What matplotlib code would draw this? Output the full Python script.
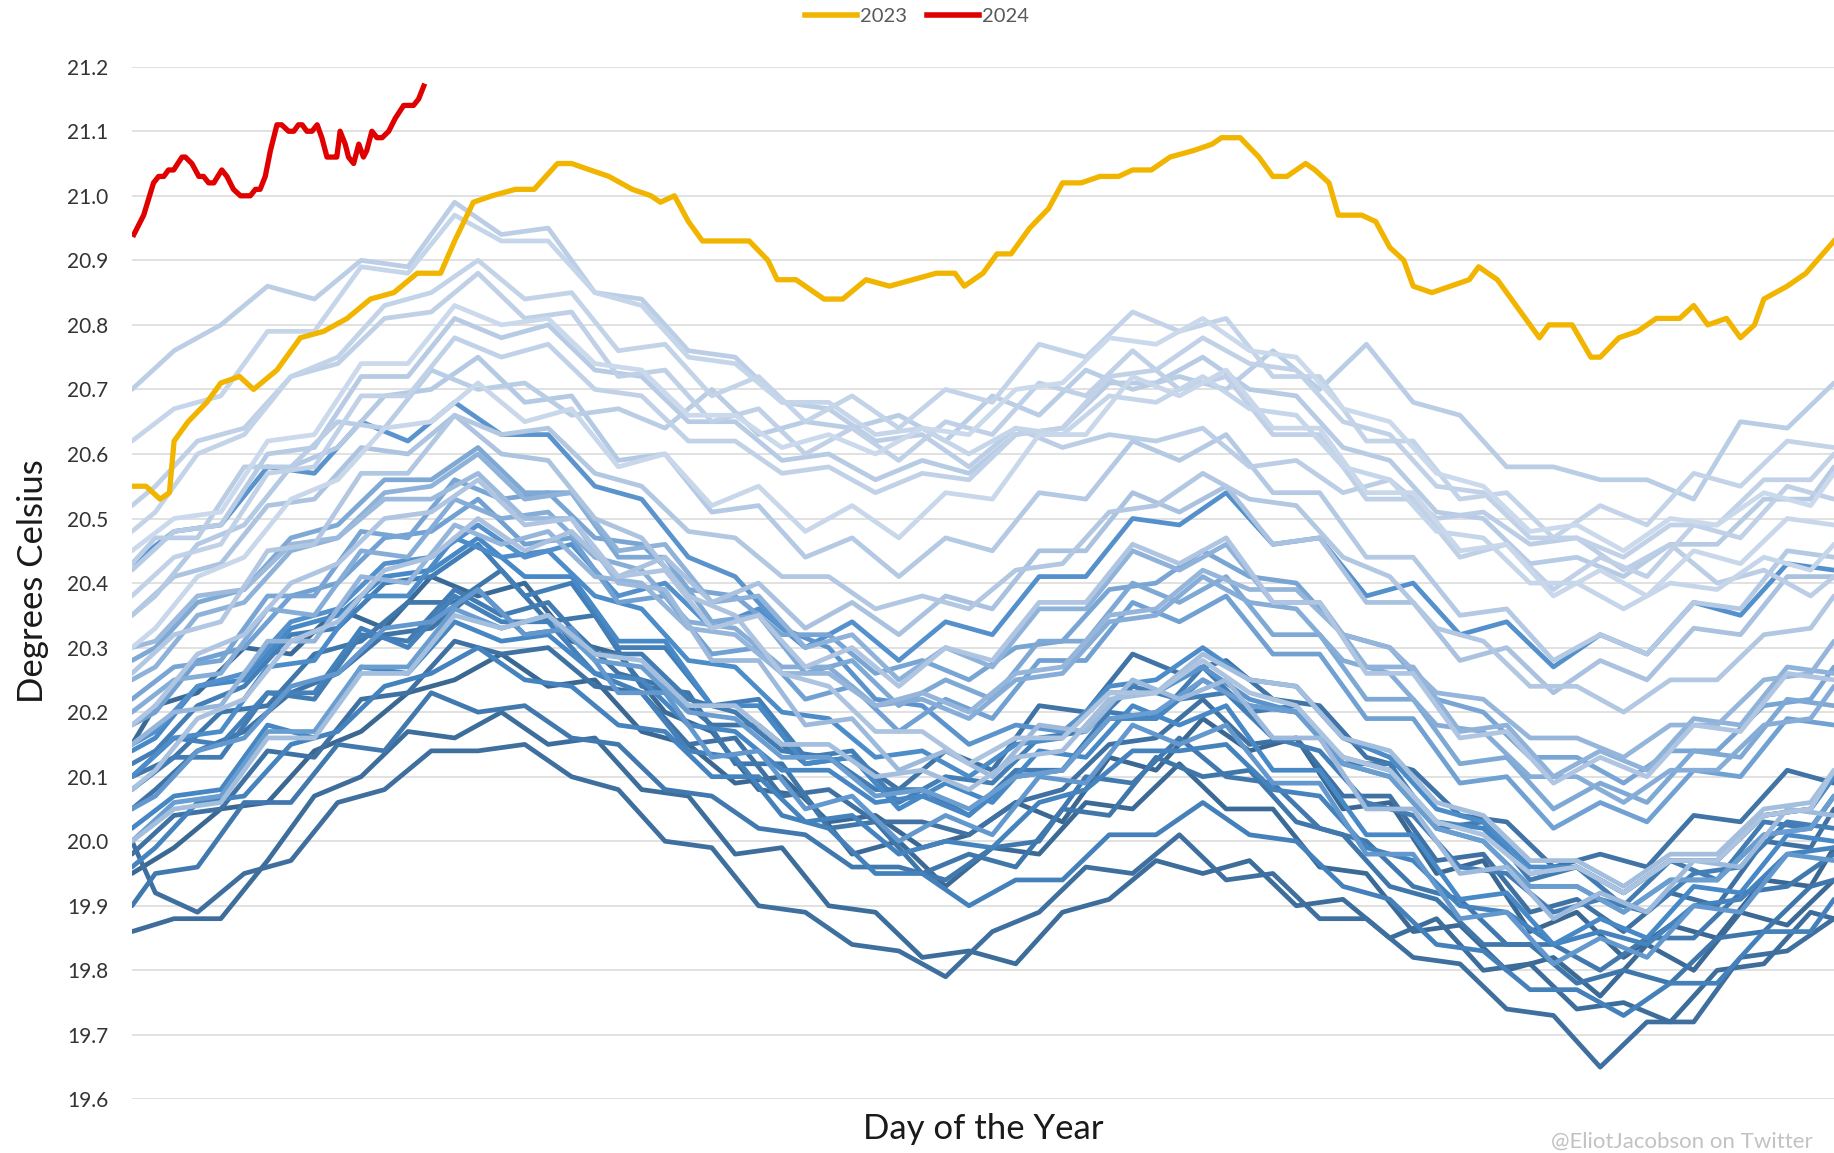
import matplotlib
matplotlib.use("Agg")
import matplotlib.pyplot as plt
from matplotlib.colors import LinearSegmentedColormap
from matplotlib.lines import Line2D

plt.rcParams["font.family"] = ["Lato", "DejaVu Sans"]

knot_days_a = [1, 10, 20, 30, 40, 50, 60, 70, 80, 90, 100, 110, 120, 130, 140, 150, 160, 170, 180, 190,
               200, 210, 220, 230, 240, 250, 260, 270, 280, 290, 300, 310, 320, 330, 340, 350, 360, 365]
knot_days_b = [1, 6, 15, 25, 35, 45, 55, 65, 75, 85, 95, 105, 115, 125, 135, 145, 155, 165, 175, 185,
               195, 205, 215, 225, 235, 245, 255, 265, 275, 285, 295, 305, 315, 325, 335, 345, 355, 365]

y1982 = [19.95, 19.99, 20.05, 20.06, 20.14, 20.17, 20.23, 20.25, 20.29, 20.24, 20.25, 20.17, 20.15, 20.09, 20.10, 20.03, 20.04, 19.99, 20.01, 20.06, 20.03, 20.13, 20.11, 20.19, 20.14, 20.16, 20.05, 20.06, 19.95, 19.97, 19.86, 19.89, 19.82, 19.87, 19.85, 19.94, 19.93, 19.99]
y1983 = [20.15, 20.21, 20.23, 20.30, 20.29, 20.36, 20.33, 20.41, 20.38, 20.40, 20.31, 20.29, 20.20, 20.17, 20.08, 20.07, 19.98, 20.00, 19.93, 19.99, 19.98, 20.06, 20.05, 20.12, 20.05, 20.05, 19.96, 19.95, 19.86, 19.87, 19.80, 19.82, 19.76, 19.84, 19.80, 19.89, 19.87, 19.94]
y1984 = [19.86, 19.88, 19.88, 19.97, 20.07, 20.10, 20.17, 20.16, 20.20, 20.15, 20.16, 20.08, 20.07, 19.98, 19.99, 19.90, 19.89, 19.82, 19.83, 19.81, 19.89, 19.91, 19.97, 19.95, 19.97, 19.90, 19.91, 19.85, 19.88, 19.80, 19.81, 19.74, 19.75, 19.72, 19.80, 19.81, 19.89, 19.88]
y1985 = [20.00, 19.92, 19.89, 19.95, 19.97, 20.06, 20.08, 20.14, 20.14, 20.15, 20.10, 20.08, 20.00, 19.99, 19.90, 19.89, 19.84, 19.83, 19.79, 19.86, 19.89, 19.96, 19.95, 20.01, 19.94, 19.95, 19.88, 19.88, 19.82, 19.81, 19.74, 19.73, 19.65, 19.72, 19.72, 19.82, 19.83, 19.88]
y1986 = [19.98, 20.04, 20.05, 20.14, 20.13, 20.22, 20.23, 20.31, 20.29, 20.30, 20.24, 20.23, 20.15, 20.16, 20.07, 20.08, 20.03, 20.03, 20.01, 20.06, 20.08, 20.15, 20.16, 20.22, 20.15, 20.16, 20.07, 20.07, 19.97, 19.98, 19.89, 19.91, 19.86, 19.92, 19.90, 20.00, 19.99, 20.05]
y1987 = [20.05, 20.08, 20.14, 20.17, 20.23, 20.26, 20.32, 20.33, 20.39, 20.32, 20.33, 20.26, 20.24, 20.18, 20.18, 20.12, 20.13, 20.08, 20.14, 20.11, 20.21, 20.20, 20.29, 20.26, 20.28, 20.22, 20.21, 20.13, 20.11, 20.04, 20.03, 19.96, 19.98, 19.96, 20.04, 20.03, 20.11, 20.09]
y1988 = [20.10, 20.13, 20.20, 20.21, 20.29, 20.31, 20.37, 20.37, 20.42, 20.34, 20.35, 20.24, 20.23, 20.12, 20.12, 20.02, 20.03, 19.95, 19.98, 19.96, 20.05, 20.04, 20.13, 20.10, 20.11, 20.03, 20.01, 19.93, 19.91, 19.84, 19.84, 19.78, 19.80, 19.78, 19.85, 19.86, 19.93, 19.94]
y1989 = [19.90, 19.95, 19.96, 20.06, 20.06, 20.15, 20.14, 20.23, 20.20, 20.21, 20.16, 20.15, 20.08, 20.07, 20.02, 20.01, 19.96, 19.96, 19.94, 19.99, 20.00, 20.10, 20.09, 20.16, 20.10, 20.09, 20.02, 20.00, 19.93, 19.91, 19.84, 19.84, 19.80, 19.85, 19.85, 19.92, 19.93, 19.98]
y1990 = [20.08, 20.13, 20.13, 20.23, 20.22, 20.32, 20.31, 20.39, 20.35, 20.37, 20.29, 20.29, 20.22, 20.20, 20.14, 20.13, 20.08, 20.08, 20.04, 20.11, 20.11, 20.20, 20.19, 20.27, 20.20, 20.21, 20.12, 20.12, 20.02, 20.03, 19.94, 19.96, 19.90, 19.97, 19.94, 20.03, 20.02, 20.07]
y1991 = [20.12, 20.14, 20.21, 20.24, 20.32, 20.33, 20.40, 20.41, 20.46, 20.38, 20.40, 20.30, 20.30, 20.21, 20.22, 20.13, 20.14, 20.06, 20.10, 20.09, 20.16, 20.17, 20.24, 20.22, 20.23, 20.16, 20.14, 20.06, 20.04, 19.96, 19.95, 19.89, 19.91, 19.89, 19.95, 19.96, 20.03, 20.02]
y1992 = [20.10, 20.16, 20.15, 20.23, 20.23, 20.33, 20.30, 20.38, 20.34, 20.34, 20.26, 20.23, 20.14, 20.13, 20.04, 20.02, 19.95, 19.95, 19.90, 19.94, 19.94, 20.01, 20.01, 20.06, 20.01, 20.00, 19.93, 19.91, 19.84, 19.83, 19.77, 19.77, 19.73, 19.78, 19.78, 19.86, 19.86, 19.91]
y1993 = [19.96, 19.99, 20.06, 20.07, 20.15, 20.17, 20.24, 20.26, 20.30, 20.25, 20.24, 20.18, 20.17, 20.10, 20.10, 20.03, 20.04, 19.98, 20.00, 19.99, 20.06, 20.08, 20.14, 20.14, 20.15, 20.08, 20.07, 19.99, 19.97, 19.90, 19.89, 19.84, 19.86, 19.84, 19.90, 19.91, 19.98, 19.99]
y1994 = [20.02, 20.07, 20.08, 20.18, 20.16, 20.27, 20.26, 20.34, 20.31, 20.32, 20.26, 20.25, 20.18, 20.17, 20.11, 20.11, 20.06, 20.07, 20.04, 20.10, 20.11, 20.19, 20.19, 20.25, 20.21, 20.20, 20.13, 20.11, 20.03, 20.02, 19.95, 19.96, 19.92, 19.97, 19.97, 20.04, 20.05, 20.10]
y1995 = [20.14, 20.16, 20.24, 20.25, 20.33, 20.35, 20.41, 20.42, 20.47, 20.41, 20.41, 20.31, 20.31, 20.21, 20.21, 20.12, 20.13, 20.05, 20.09, 20.06, 20.14, 20.13, 20.21, 20.18, 20.21, 20.11, 20.11, 20.01, 20.01, 19.91, 19.92, 19.84, 19.88, 19.85, 19.93, 19.92, 20.01, 20.00]
y1996 = [20.10, 20.16, 20.17, 20.27, 20.28, 20.38, 20.38, 20.47, 20.44, 20.45, 20.38, 20.36, 20.28, 20.27, 20.20, 20.19, 20.13, 20.14, 20.10, 20.15, 20.16, 20.24, 20.25, 20.30, 20.25, 20.24, 20.16, 20.13, 20.05, 20.03, 19.96, 19.96, 19.92, 19.97, 19.97, 20.04, 20.05, 20.10]
y1997 = [20.15, 20.17, 20.24, 20.26, 20.34, 20.36, 20.43, 20.44, 20.49, 20.44, 20.46, 20.38, 20.40, 20.33, 20.36, 20.30, 20.34, 20.28, 20.34, 20.32, 20.41, 20.41, 20.50, 20.49, 20.54, 20.46, 20.47, 20.38, 20.40, 20.32, 20.34, 20.27, 20.32, 20.29, 20.37, 20.35, 20.43, 20.42]
y1998 = [20.43, 20.48, 20.49, 20.58, 20.57, 20.65, 20.62, 20.68, 20.63, 20.63, 20.55, 20.53, 20.44, 20.41, 20.33, 20.30, 20.22, 20.21, 20.15, 20.18, 20.17, 20.23, 20.23, 20.27, 20.22, 20.20, 20.12, 20.10, 20.02, 20.00, 19.93, 19.93, 19.89, 19.94, 19.94, 20.01, 20.02, 20.07]
y1999 = [20.05, 20.07, 20.14, 20.16, 20.24, 20.26, 20.33, 20.34, 20.39, 20.32, 20.33, 20.23, 20.23, 20.13, 20.14, 20.05, 20.07, 20.00, 20.04, 20.01, 20.10, 20.09, 20.18, 20.15, 20.18, 20.09, 20.09, 19.98, 19.98, 19.88, 19.89, 19.81, 19.85, 19.82, 19.90, 19.89, 19.98, 19.97]
y2000 = [20.00, 20.06, 20.07, 20.17, 20.17, 20.27, 20.27, 20.36, 20.33, 20.35, 20.28, 20.27, 20.20, 20.19, 20.13, 20.13, 20.07, 20.08, 20.05, 20.10, 20.11, 20.19, 20.20, 20.25, 20.21, 20.20, 20.12, 20.10, 20.02, 20.00, 19.93, 19.93, 19.89, 19.94, 19.94, 20.01, 20.02, 20.07]
y2001 = [20.18, 20.20, 20.28, 20.30, 20.38, 20.40, 20.47, 20.48, 20.53, 20.46, 20.47, 20.37, 20.38, 20.29, 20.30, 20.22, 20.24, 20.17, 20.22, 20.19, 20.28, 20.28, 20.37, 20.34, 20.38, 20.29, 20.29, 20.19, 20.19, 20.09, 20.10, 20.02, 20.06, 20.03, 20.11, 20.10, 20.19, 20.18]
y2002 = [20.22, 20.27, 20.28, 20.38, 20.38, 20.48, 20.47, 20.56, 20.53, 20.54, 20.47, 20.46, 20.39, 20.38, 20.32, 20.32, 20.26, 20.28, 20.25, 20.30, 20.31, 20.39, 20.40, 20.45, 20.41, 20.40, 20.32, 20.30, 20.22, 20.20, 20.13, 20.13, 20.09, 20.14, 20.14, 20.21, 20.22, 20.27]
y2003 = [20.28, 20.30, 20.37, 20.39, 20.47, 20.49, 20.56, 20.56, 20.61, 20.54, 20.54, 20.44, 20.44, 20.34, 20.35, 20.26, 20.28, 20.21, 20.25, 20.22, 20.31, 20.31, 20.40, 20.37, 20.41, 20.32, 20.32, 20.22, 20.22, 20.12, 20.13, 20.05, 20.09, 20.06, 20.14, 20.13, 20.22, 20.21]
y2004 = [20.20, 20.25, 20.26, 20.36, 20.35, 20.45, 20.44, 20.53, 20.50, 20.51, 20.44, 20.42, 20.34, 20.33, 20.27, 20.27, 20.21, 20.22, 20.19, 20.25, 20.26, 20.34, 20.35, 20.41, 20.37, 20.36, 20.28, 20.26, 20.18, 20.17, 20.10, 20.10, 20.06, 20.11, 20.11, 20.18, 20.19, 20.24]
y2005 = [20.25, 20.27, 20.35, 20.37, 20.45, 20.47, 20.54, 20.55, 20.60, 20.53, 20.54, 20.45, 20.46, 20.37, 20.38, 20.30, 20.32, 20.25, 20.30, 20.27, 20.36, 20.36, 20.45, 20.42, 20.46, 20.37, 20.37, 20.27, 20.27, 20.17, 20.18, 20.10, 20.14, 20.11, 20.19, 20.18, 20.27, 20.26]
y2006 = [20.15, 20.20, 20.21, 20.31, 20.31, 20.41, 20.40, 20.49, 20.46, 20.48, 20.41, 20.40, 20.33, 20.32, 20.26, 20.26, 20.21, 20.23, 20.20, 20.26, 20.27, 20.35, 20.36, 20.42, 20.39, 20.39, 20.32, 20.30, 20.23, 20.22, 20.16, 20.16, 20.13, 20.18, 20.18, 20.25, 20.26, 20.31]
y2007 = [20.30, 20.31, 20.38, 20.39, 20.46, 20.47, 20.53, 20.53, 20.57, 20.50, 20.50, 20.40, 20.39, 20.28, 20.28, 20.18, 20.19, 20.11, 20.14, 20.10, 20.18, 20.17, 20.25, 20.22, 20.25, 20.16, 20.16, 20.05, 20.05, 19.95, 19.96, 19.88, 19.92, 19.89, 19.97, 19.96, 20.05, 20.04]
y2008 = [20.00, 20.05, 20.06, 20.16, 20.16, 20.26, 20.26, 20.35, 20.33, 20.35, 20.29, 20.28, 20.21, 20.21, 20.15, 20.15, 20.10, 20.11, 20.08, 20.13, 20.14, 20.22, 20.23, 20.29, 20.25, 20.24, 20.16, 20.14, 20.06, 20.04, 19.97, 19.97, 19.93, 19.98, 19.98, 20.05, 20.06, 20.11]
y2009 = [20.08, 20.11, 20.19, 20.22, 20.31, 20.34, 20.42, 20.44, 20.50, 20.45, 20.48, 20.41, 20.44, 20.37, 20.40, 20.33, 20.37, 20.32, 20.38, 20.36, 20.45, 20.45, 20.54, 20.51, 20.55, 20.46, 20.47, 20.37, 20.37, 20.28, 20.30, 20.23, 20.28, 20.25, 20.33, 20.32, 20.41, 20.41]
y2010 = [20.35, 20.41, 20.43, 20.52, 20.53, 20.61, 20.60, 20.66, 20.60, 20.59, 20.50, 20.47, 20.38, 20.35, 20.26, 20.24, 20.17, 20.17, 20.12, 20.16, 20.16, 20.23, 20.23, 20.28, 20.23, 20.21, 20.13, 20.11, 20.03, 20.01, 19.95, 19.96, 19.92, 19.97, 19.97, 20.04, 20.05, 20.11]
y2011 = [20.18, 20.21, 20.29, 20.32, 20.40, 20.43, 20.50, 20.51, 20.56, 20.49, 20.50, 20.41, 20.42, 20.33, 20.35, 20.27, 20.30, 20.24, 20.30, 20.28, 20.37, 20.37, 20.46, 20.43, 20.47, 20.37, 20.37, 20.26, 20.26, 20.16, 20.17, 20.09, 20.13, 20.10, 20.18, 20.17, 20.26, 20.25]
y2012 = [20.26, 20.32, 20.34, 20.45, 20.46, 20.57, 20.57, 20.66, 20.63, 20.64, 20.57, 20.55, 20.48, 20.47, 20.41, 20.41, 20.36, 20.38, 20.36, 20.42, 20.43, 20.51, 20.52, 20.57, 20.53, 20.52, 20.44, 20.41, 20.33, 20.31, 20.24, 20.24, 20.20, 20.25, 20.25, 20.32, 20.33, 20.38]
y2013 = [20.35, 20.38, 20.46, 20.49, 20.58, 20.61, 20.69, 20.70, 20.75, 20.68, 20.69, 20.59, 20.60, 20.51, 20.52, 20.44, 20.47, 20.41, 20.47, 20.45, 20.54, 20.53, 20.62, 20.59, 20.63, 20.54, 20.54, 20.44, 20.44, 20.35, 20.36, 20.28, 20.32, 20.29, 20.37, 20.36, 20.45, 20.44]
y2014 = [20.42, 20.48, 20.49, 20.60, 20.61, 20.72, 20.72, 20.81, 20.78, 20.80, 20.73, 20.72, 20.65, 20.65, 20.59, 20.60, 20.56, 20.59, 20.57, 20.63, 20.64, 20.71, 20.71, 20.75, 20.70, 20.69, 20.61, 20.59, 20.51, 20.50, 20.43, 20.44, 20.41, 20.46, 20.46, 20.53, 20.53, 20.58]
y2015 = [20.43, 20.47, 20.47, 20.58, 20.58, 20.65, 20.64, 20.73, 20.70, 20.71, 20.66, 20.67, 20.64, 20.70, 20.63, 20.65, 20.64, 20.66, 20.62, 20.69, 20.66, 20.73, 20.70, 20.72, 20.70, 20.76, 20.70, 20.77, 20.68, 20.66, 20.58, 20.58, 20.56, 20.56, 20.53, 20.65, 20.64, 20.71]
y2016 = [20.70, 20.76, 20.80, 20.86, 20.84, 20.90, 20.89, 20.99, 20.94, 20.95, 20.85, 20.84, 20.76, 20.75, 20.68, 20.67, 20.62, 20.63, 20.58, 20.64, 20.61, 20.63, 20.62, 20.64, 20.58, 20.59, 20.54, 20.56, 20.50, 20.51, 20.46, 20.47, 20.42, 20.46, 20.40, 20.42, 20.38, 20.41]
y2017 = [20.52, 20.55, 20.62, 20.64, 20.72, 20.74, 20.81, 20.82, 20.88, 20.81, 20.82, 20.72, 20.73, 20.65, 20.67, 20.60, 20.64, 20.59, 20.65, 20.63, 20.71, 20.69, 20.76, 20.70, 20.72, 20.63, 20.63, 20.53, 20.53, 20.44, 20.46, 20.39, 20.44, 20.41, 20.49, 20.47, 20.55, 20.53]
y2018 = [20.38, 20.44, 20.46, 20.57, 20.58, 20.69, 20.69, 20.78, 20.75, 20.77, 20.70, 20.69, 20.62, 20.62, 20.57, 20.58, 20.54, 20.57, 20.56, 20.63, 20.64, 20.72, 20.73, 20.78, 20.74, 20.73, 20.65, 20.63, 20.55, 20.54, 20.47, 20.47, 20.44, 20.49, 20.49, 20.56, 20.56, 20.60]
y2019 = [20.48, 20.51, 20.60, 20.63, 20.72, 20.75, 20.83, 20.85, 20.90, 20.84, 20.85, 20.76, 20.77, 20.69, 20.72, 20.65, 20.69, 20.64, 20.70, 20.68, 20.77, 20.75, 20.82, 20.79, 20.81, 20.72, 20.72, 20.62, 20.62, 20.53, 20.54, 20.47, 20.52, 20.49, 20.57, 20.55, 20.62, 20.61]
y2020 = [20.62, 20.67, 20.69, 20.79, 20.79, 20.89, 20.88, 20.97, 20.93, 20.93, 20.85, 20.83, 20.75, 20.74, 20.68, 20.68, 20.63, 20.64, 20.60, 20.64, 20.63, 20.69, 20.68, 20.72, 20.67, 20.66, 20.58, 20.56, 20.48, 20.47, 20.40, 20.40, 20.36, 20.40, 20.39, 20.44, 20.42, 20.46]
y2021 = [20.30, 20.33, 20.41, 20.44, 20.53, 20.56, 20.64, 20.65, 20.71, 20.65, 20.67, 20.58, 20.60, 20.52, 20.55, 20.48, 20.52, 20.47, 20.54, 20.53, 20.63, 20.63, 20.72, 20.69, 20.73, 20.64, 20.64, 20.54, 20.54, 20.45, 20.46, 20.38, 20.42, 20.38, 20.45, 20.43, 20.50, 20.49]
y2022 = [20.45, 20.50, 20.51, 20.62, 20.63, 20.74, 20.74, 20.83, 20.80, 20.81, 20.74, 20.73, 20.66, 20.66, 20.61, 20.63, 20.60, 20.64, 20.63, 20.70, 20.71, 20.78, 20.77, 20.81, 20.76, 20.75, 20.67, 20.65, 20.57, 20.55, 20.48, 20.49, 20.45, 20.50, 20.49, 20.54, 20.52, 20.57]

old_years = [y1982, y1983, y1984, y1985, y1986, y1987, y1988, y1989, y1990, y1991,
             y1992, y1993, y1994, y1995, y1996, y1997, y1998, y1999, y2000, y2001,
             y2002, y2003, y2004, y2005, y2006, y2007, y2008, y2009, y2010, y2011,
             y2012, y2013, y2014, y2015, y2016, y2017, y2018, y2019, y2020, y2021, y2022]

days_2023 = [1, 4, 7, 9, 10, 13, 17, 20, 24, 27, 32, 37, 42, 47, 52, 57, 62, 67, 70, 74,
             78, 83, 87, 92, 95, 99, 103, 108, 112, 114, 117, 120, 123, 128, 133, 137, 139, 143, 147, 149,
             153, 158, 163, 168, 173, 177, 179, 183, 186, 189, 193, 197, 200, 204, 208, 212, 215, 219, 223, 228,
             232, 234, 238, 242, 245, 248, 252, 254, 257, 259, 264, 267, 270, 273, 275, 279, 283, 287, 289, 293,
             297, 302, 304, 309, 313, 315, 319, 323, 327, 332, 335, 338, 342, 345, 348, 350, 355, 359, 365]
temp_2023 = [20.55, 20.55, 20.53, 20.54, 20.62, 20.65, 20.68, 20.71, 20.72, 20.70, 20.73, 20.78, 20.79, 20.81, 20.84, 20.85, 20.88, 20.88, 20.93, 20.99,
             21.00, 21.01, 21.01, 21.05, 21.05, 21.04, 21.03, 21.01, 21.00, 20.99, 21.00, 20.96, 20.93, 20.93, 20.93, 20.90, 20.87, 20.87, 20.85, 20.84,
             20.84, 20.87, 20.86, 20.87, 20.88, 20.88, 20.86, 20.88, 20.91, 20.91, 20.95, 20.98, 21.02, 21.02, 21.03, 21.03, 21.04, 21.04, 21.06, 21.07,
             21.08, 21.09, 21.09, 21.06, 21.03, 21.03, 21.05, 21.04, 21.02, 20.97, 20.97, 20.96, 20.92, 20.90, 20.86, 20.85, 20.86, 20.87, 20.89, 20.87,
             20.83, 20.78, 20.80, 20.80, 20.75, 20.75, 20.78, 20.79, 20.81, 20.81, 20.83, 20.80, 20.81, 20.78, 20.80, 20.84, 20.86, 20.88, 20.93]

days_2024 = [1.4, 3.5, 5.6, 6.7, 7.8, 8.8, 9.9, 11.7, 12.4, 13.8, 15.3, 16.3, 17.4, 18.5, 20.2, 21.3, 22.7, 24.2, 26.3, 27.4,
             28.4, 29.5, 30.6, 32.0, 33.0, 34.5, 35.6, 36.6, 37.4, 38.4, 39.5, 40.6, 41.6, 42.7, 44.1, 44.8, 45.5, 46.6, 47.3, 48.4,
             49.5, 50.5, 51.2, 52.3, 53.4, 54.5, 55.9, 57.3, 59.1, 61.2, 62.3, 63.4]
temp_2024 = [20.94, 20.97, 21.02, 21.03, 21.03, 21.04, 21.04, 21.06, 21.06, 21.05, 21.03, 21.03, 21.02, 21.02, 21.04, 21.03, 21.01, 21.00, 21.00, 21.01,
             21.01, 21.03, 21.07, 21.11, 21.11, 21.10, 21.10, 21.11, 21.11, 21.10, 21.10, 21.11, 21.09, 21.06, 21.06, 21.06, 21.10, 21.08, 21.06, 21.05,
             21.08, 21.06, 21.07, 21.10, 21.09, 21.09, 21.10, 21.12, 21.14, 21.14, 21.15, 21.17]

y_ticks = [19.6, 19.7, 19.8, 19.9, 20.0, 20.1, 20.2, 20.3, 20.4, 20.5, 20.6, 20.7, 20.8, 20.9, 21.0, 21.1, 21.2]

W, H = 1834, 1153
fig = plt.figure(figsize=(W / 100, H / 100), dpi=100)
ax = fig.add_axes([132 / W, 1 - 1099.4 / H, (W - 132) / W, (1099.4 - 66.7) / H])

blues = LinearSegmentedColormap.from_list("yrs", ["#3b6892", "#4789c8", "#a9c1df", "#cbd9ec"])
n = len(old_years)
for i, s in enumerate(old_years):
    days = knot_days_a if i % 2 == 0 else knot_days_b
    k = min(len(s), len(days))
    ax.plot(days[:k], s[:k], color=blues(i / (n - 1)), lw=3.4,
            solid_joinstyle="round", solid_capstyle="round", zorder=2)

ax.plot(days_2023, temp_2023, color="#f1b500", lw=3.8, solid_joinstyle="round", zorder=4)
ax.plot(days_2024, temp_2024, color="#e00000", lw=3.8, solid_joinstyle="round", zorder=5)

ax.set_xlim(1, 365)
ax.set_ylim(19.6, 21.2)
ax.set_yticks(y_ticks)
ax.set_yticklabels([f"{t:.1f}" for t in y_ticks])
ax.set_xticks([])
ax.tick_params(axis="y", length=0, pad=17, labelsize=15, labelcolor="#333333")
ax.grid(axis="y", color="#d9d9d9", lw=1.1, zorder=0)
ax.set_axisbelow(True)
for sp in ax.spines.values():
    sp.set_visible(False)

fig.text(33 / W, 1 - 581 / H, "Degrees Celsius", rotation=90, fontsize=25,
         ha="center", va="center", color="#1a1a1a")
fig.text(983 / W, 1 - 1129 / H, "Day of the Year", fontsize=25,
         ha="center", va="center", color="#1a1a1a")
fig.text(1813 / W, 1 - 1142 / H, "@EliotJacobson on Twitter", fontsize=16,
         ha="right", va="center", color="#c2c2c2")

handles = [Line2D([], [], color="#f1b500", lw=4), Line2D([], [], color="#e00000", lw=4)]
fig.legend(handles, ["2023", "2024"], loc="upper center", bbox_to_anchor=(0.5, 1.004),
           ncol=2, frameon=False, fontsize=14.5, handlelength=2.6, handletextpad=0.15,
           columnspacing=1.0, borderpad=0.1, labelcolor="#595959")

fig.savefig("out.png", dpi=100)
